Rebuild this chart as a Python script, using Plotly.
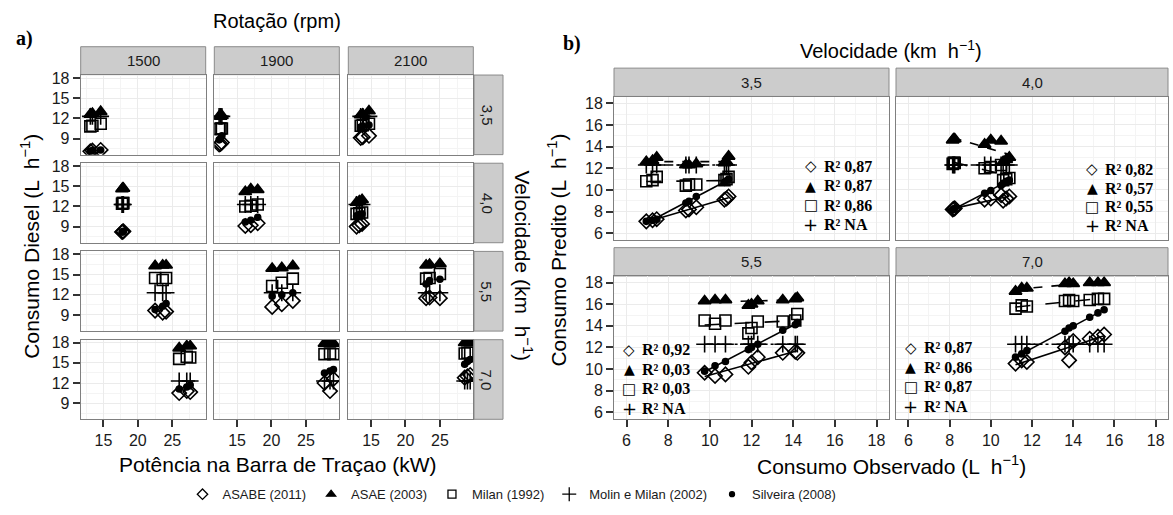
import numpy as np
import plotly.graph_objects as go

W, H = 1173, 515

velocities = ["3,5", "4,0", "5,5", "7,0"]
rpms = ["1500", "1900", "2100"]
series_names = ["ASABE (2011)", "ASAE (2003)", "Milan (1992)", "Molin e Milan (2002)", "Silveira (2008)"]

# 9 values per velocity: 3 replicates for rpm 1500, 1900, 2100
power = [
    [13.1, 13.4, 14.6, 12.4, 12.6, 12.8, 13.5, 13.8, 14.7],
    [17.7, 17.8, 17.9, 16.2, 17.0, 18.0, 12.9, 13.3, 13.7],
    [22.5, 23.6, 24.1, 20.1, 21.5, 23.1, 23.0, 23.5, 25.0],
    [26.0, 27.1, 27.6, 27.7, 28.5, 29.0, 28.6, 29.0, 29.4],
]
observed = [
    [6.95, 7.25, 7.45, 8.85, 9.0, 9.35, 10.7, 10.8, 10.9],
    [8.15, 8.2, 8.25, 9.7, 10.0, 10.5, 10.6, 10.75, 10.9],
    [9.75, 10.25, 10.75, 11.85, 12.0, 12.3, 13.5, 14.1, 14.2],
    [11.2, 11.5, 11.75, 13.6, 13.8, 14.0, 14.8, 15.2, 15.5],
]
asabe = [
    [7.1, 7.2, 7.3, 8.1, 8.2, 8.4, 9.1, 9.2, 9.4],
    [8.2, 8.25, 8.3, 9.1, 9.2, 9.5, 9.0, 9.2, 9.4],
    [9.65, 9.35, 9.5, 10.2, 10.6, 11.1, 11.5, 11.6, 11.5],
    [10.5, 10.8, 10.65, 12.0, 10.8, 12.6, 12.8, 13.0, 13.2],
]
asae = [
    [12.6, 12.7, 13.0, 12.3, 12.3, 12.4, 12.5, 12.6, 13.1],
    [14.6, 14.7, 14.7, 14.2, 14.6, 14.5, 12.6, 12.8, 13.0],
    [16.3, 16.4, 16.4, 15.9, 16.0, 16.3, 16.4, 16.5, 16.6],
    [17.2, 17.5, 17.5, 17.9, 18.0, 17.9, 18.0, 18.0, 18.0],
]
milan = [
    [10.8, 10.9, 11.2, 10.4, 10.5, 10.5, 10.9, 11.0, 11.2],
    [12.4, 12.5, 12.5, 12.0, 12.1, 12.3, 10.9, 11.0, 11.1],
    [14.5, 14.2, 14.5, 13.3, 13.8, 14.4, 14.4, 14.5, 15.1],
    [15.6, 15.9, 15.8, 16.3, 16.4, 16.3, 16.4, 16.5, 16.5],
]
molin = [
    [12.3, 12.3, 12.3, 12.3, 12.3, 12.3, 12.3, 12.3, 12.3],
    [12.3, 12.3, 12.3, 12.3, 12.3, 12.3, 12.3, 12.3, 12.3],
    [12.3, 12.3, 12.3, 12.3, 12.3, 12.3, 12.3, 12.3, 12.3],
    [12.3, 12.3, 12.3, 12.3, 12.3, 12.3, 12.3, 12.3, 12.3],
]
silveira = [
    [7.1, 7.2, 7.3, 8.8, 8.95, 9.4, 10.7, 10.85, 11.0],
    [8.2, 8.2, 8.3, 9.7, 9.95, 10.4, 10.6, 10.8, 10.9],
    [9.8, 10.3, 10.7, 11.8, 12.0, 12.3, 13.6, 14.1, 14.3],
    [11.1, 11.4, 11.7, 13.5, 13.8, 14.0, 14.8, 15.2, 15.5],
]

r2_asabe = ["0,87", "0,82", "0,92", "0,87"]
r2_asae = ["0,87", "0,57", "0,03", "0,86"]
r2_milan = ["0,86", "0,55", "0,03", "0,87"]
r2_molin = ["NA", "NA", "NA", "NA"]

preds = [asabe, asae, milan, molin, silveira]
r2_all = [r2_asabe, r2_asae, r2_milan, r2_molin]

symbols = ["diamond-open", "triangle-up", "square-open", "cross-thin-open", "circle"]
msizes = [11, 11, 11, 12, 6]
legsizes = [8, 8, 8, 10, 5]
dashes = ["solid", "dash", "longdash", "dashdot", "solid"]
glyphs = ["\u25C7", "\u25B2", "\u25A1", "+"]
glyph_sizes = [15, 14, 15, 18]

FONT = "Liberation Sans, Arial, sans-serif"
SERIF = "Liberation Serif, Times New Roman, serif"
TXT = "#1a1a1a"
GRID = "#ebebeb"
MINOR = "#f4f4f4"
BORDER = "#7f7f7f"
STRIP_FILL = "#cccccc"
STRIP_LINE = "#8a8a8a"
TICK_SIZE = 16
TITLE_SIZE = 21


def px(x):
    return x / W


def py(y):
    return 1 - y / H


fig = go.Figure()
layout = {}
shapes = []
annotations = []


def axis(domain, anchor, rng, tickvals, minor_vals, show):
    return dict(
        domain=domain, anchor=anchor, range=rng,
        tickvals=tickvals, showticklabels=show,
        ticks="outside" if show else "", ticklen=7, tickwidth=1.5, tickcolor="#333333",
        tickfont=dict(family=FONT, size=TICK_SIZE, color=TXT),
        showgrid=True, gridcolor=GRID, gridwidth=1,
        minor=dict(tickvals=minor_vals, showgrid=True, gridcolor=MINOR, ticks=""),
        showline=True, mirror=True, linecolor=BORDER, linewidth=1, zeroline=False,
    )


def label(text, x, y, size, angle=0, family=FONT, color="black"):
    annotations.append(dict(text=text, xref="paper", yref="paper", x=px(x), y=py(y),
                            xanchor="center", yanchor="middle", textangle=angle, showarrow=False,
                            font=dict(family=family, size=size, color=color)))


# ---------------- panel a ----------------
a_cols = [(80.7, 205.7), (214.3, 339.3), (348.3, 473.3)]
a_rows = [(71.0, 151.7), (160.4, 241.0), (249.8, 330.6), (339.3, 420.0)]
a_xrange = [11.7, 29.85]
a_yrange = [6.6, 18.45]

for r in range(4):
    for c in range(3):
        k = r * 3 + c + 1
        xa = "xaxis" if k == 1 else f"xaxis{k}"
        ya = "yaxis" if k == 1 else f"yaxis{k}"
        xr = "x" if k == 1 else f"x{k}"
        yr = "y" if k == 1 else f"y{k}"
        x0, x1 = a_cols[c]
        y0, y1 = a_rows[r]
        layout[xa] = axis([px(x0), px(x1)], yr, a_xrange, [15, 20, 25],
                          [12.5, 17.5, 22.5, 27.5], r == 3)
        layout[ya] = axis([py(y1), py(y0)], xr, a_yrange, [9, 12, 15, 18],
                          [7.5, 10.5, 13.5, 16.5], c == 0)
        sl = slice(c * 3, c * 3 + 3)
        for s in range(5):
            fig.add_trace(go.Scatter(
                x=power[r][sl], y=preds[s][r][sl], mode="markers",
                xaxis=xr, yaxis=yr, showlegend=False,
                marker=dict(symbol=symbols[s], size=msizes[s], color="black",
                            line=dict(color="black", width=1.6)),
                hoverinfo="skip",
            ))

# legend-only entries
for s in range(5):
    fig.add_trace(go.Scatter(
        x=[None], y=[None], mode="markers", xaxis="x", yaxis="y",
        name=series_names[s], showlegend=True,
        marker=dict(symbol=symbols[s], size=legsizes[s], color="black",
                    line=dict(color="black", width=1.3)),
    ))

# panel a strips
for c, (x0, x1) in enumerate(a_cols):
    shapes.append(dict(type="rect", xref="paper", yref="paper", x0=px(x0), x1=px(x1),
                       y0=py(70.6), y1=py(42.3), fillcolor=STRIP_FILL,
                       line=dict(color=STRIP_LINE, width=1), layer="below"))
    label(rpms[c], (x0 + x1) / 2, 56.5, 15, color=TXT)
for r, (y0, y1) in enumerate(a_rows):
    shapes.append(dict(type="rect", xref="paper", yref="paper", x0=px(474.0), x1=px(503.0),
                       y0=py(y1), y1=py(y0), fillcolor=STRIP_FILL,
                       line=dict(color=STRIP_LINE, width=1), layer="below"))
    label(velocities[r], 487.0, (y0 + y1) / 2, 15, angle=90, color=TXT)

# ---------------- panel b ----------------
b_cols = [(614.0, 889.0), (896.0, 1168.0)]
b_rows = [(93.0, 238.0), (275.0, 419.3)]
b_strips = [(64.0, 92.7), (246.0, 274.7)]
b_range = [5.4, 18.6]
b_ticks = [6, 8, 10, 12, 14, 16, 18]
b_minor = [7, 9, 11, 13, 15, 17]

for v in range(4):
    r, c = v // 2, v % 2
    k = 13 + v
    xa, ya, xr, yr = f"xaxis{k}", f"yaxis{k}", f"x{k}", f"y{k}"
    x0, x1 = b_cols[c]
    y0, y1 = b_rows[r]
    layout[xa] = axis([px(x0), px(x1)], yr, b_range, b_ticks, b_minor, r == 1)
    layout[ya] = axis([py(y1), py(y0)], xr, b_range, b_ticks, b_minor, c == 0)
    obs = np.array(observed[v])
    for s in range(5):
        yv = np.array(preds[s][v])
        fig.add_trace(go.Scatter(
            x=obs, y=yv, mode="markers", xaxis=xr, yaxis=yr, showlegend=False,
            marker=dict(symbol=symbols[s], size=msizes[s], color="black",
                        line=dict(color="black", width=1.6)),
            hoverinfo="skip",
        ))
    for s in range(5):
        yv = np.array(preds[s][v])
        slope, icpt = np.polyfit(obs, yv, 1)
        xs = np.array([obs.min(), obs.max()])
        fig.add_trace(go.Scatter(
            x=xs, y=slope * xs + icpt, mode="lines", xaxis=xr, yaxis=yr, showlegend=False,
            line=dict(color="black", width=1.6, dash=dashes[s]), hoverinfo="skip",
        ))
    sy0, sy1 = b_strips[r]
    shapes.append(dict(type="rect", xref="paper", yref="paper", x0=px(x0), x1=px(x1),
                       y0=py(sy1), y1=py(sy0), fillcolor=STRIP_FILL,
                       line=dict(color=STRIP_LINE, width=1), layer="below"))
    label(velocities[v], (x0 + x1) / 2, (sy0 + sy1) / 2, 15, color=TXT)

# R2 boxes (symbol x, text x, first line y, spacing)
r2_pos = [(810.5, 822.0, 163.3, 19.8), (1092.0, 1103.0, 166.7, 18.9),
          (629.0, 640.0, 349.3, 19.9), (910.5, 922.0, 347.3, 19.8)]
for v, (sx, tx, ly, dy) in enumerate(r2_pos):
    shapes.append(dict(type="rect", xref="paper", yref="paper", x0=px(sx - 10), x1=px(tx + 60),
                       y0=py(ly + 3 * dy + 10), y1=py(ly - 10), fillcolor="white",
                       line=dict(width=0), layer="below"))
    for i in range(4):
        label(glyphs[i], sx, ly + i * dy, glyph_sizes[i], family="DejaVu Sans")
        annotations.append(dict(text="<b>R² " + r2_all[i][v] + "</b>", xref="paper", yref="paper",
                                x=px(tx), y=py(ly + i * dy), xanchor="left", yanchor="middle",
                                showarrow=False, font=dict(family=SERIF, size=16, color="black")))

# ---------------- titles ----------------
label("<b>a)</b>", 24, 34, 20, family=SERIF)
label("<b>b)</b>", 572, 39, 20, family=SERIF)
label("Rotação (rpm)", 277, 16, 20)
label("Velocidade (km  h<sup>−1</sup>)", 891, 45, 20)
label("Consumo Diesel (L  h<sup>−1</sup>)", 30, 245, TITLE_SIZE, angle=-90)
label("Velocidade (km  h<sup>−1</sup>)", 523, 264, TITLE_SIZE, angle=90)
label("Consumo Predito (L  h<sup>−1</sup>)", 557, 249, TITLE_SIZE, angle=-90)
label("Potência na Barra de Traçao (kW)", 277, 466, TITLE_SIZE)
label("Consumo Observado (L  h<sup>−1</sup>)", 891, 466, TITLE_SIZE)

fig.update_layout(
    width=W, height=H, margin=dict(l=0, r=0, t=0, b=0),
    paper_bgcolor="white", plot_bgcolor="white",
    shapes=shapes, annotations=annotations,
    showlegend=True,
    legend=dict(orientation="h", x=px(512), xanchor="center", y=py(496), yanchor="middle",
                font=dict(family=FONT, size=13, color=TXT), bgcolor="rgba(0,0,0,0)",
                itemwidth=30, tracegroupgap=0),
    **layout,
)

fig.write_html(
    "out.html",
    config={"displayModeBar": False},
    post_script="document.body.style.margin='0px';document.documentElement.style.overflow='hidden';",
)
